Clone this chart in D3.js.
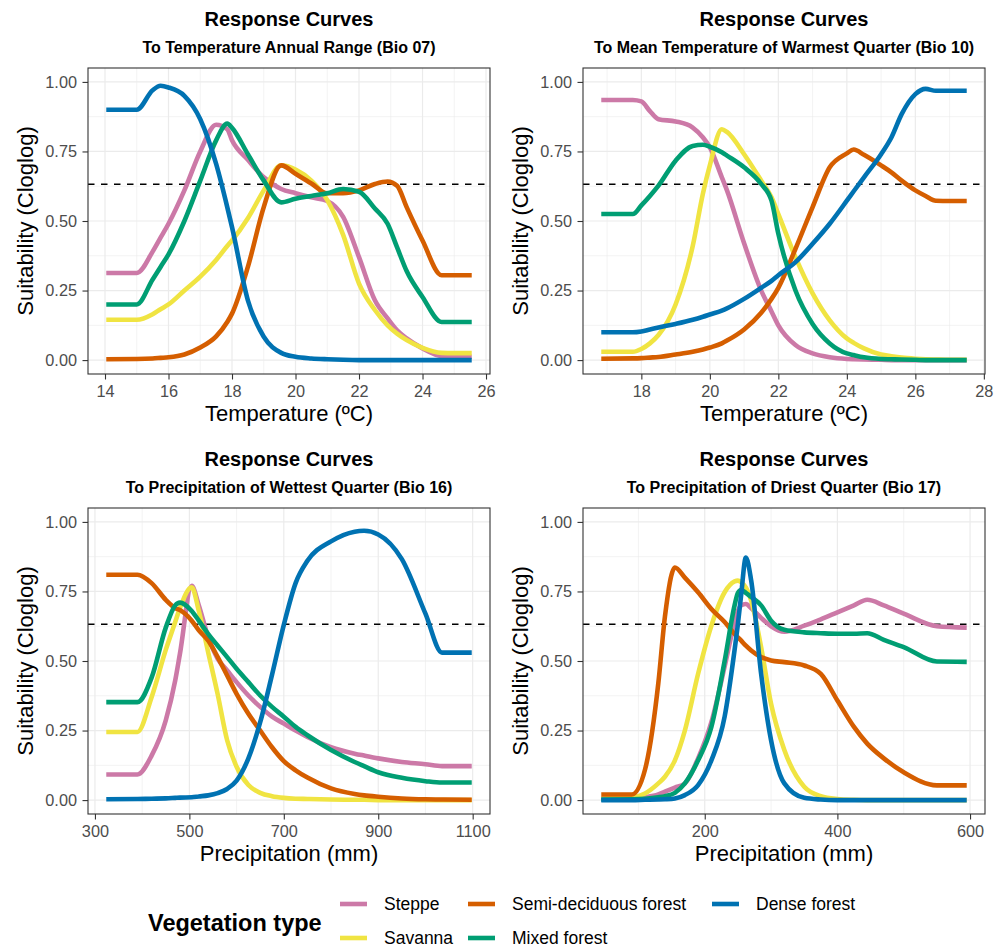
<!DOCTYPE html>
<html lang="en">
<head>
<meta charset="UTF-8">
<title>Response Curves</title>
<script src="https://d3js.org/d3.v7.min.js"></script>
<style>
  body { margin: 0; background: #fff; }
  svg text { font-family: "Liberation Sans", Arial, Helvetica, sans-serif; }
</style>
</head>
<body>
<script>
// vegetation types, legend order (column-major in 2 rows)
const vegTypes = ["Steppe", "Savanna", "Semi-deciduous forest", "Mixed forest", "Dense forest"];
const vegColors = ["#CC79A7", "#F0E442", "#D55E00", "#009E73", "#0072B2"];
const threshold = 0.632;

// Bio 07 - temperature annual range
const bio07X = [14.04, 15.0, 15.5, 15.75, 16, 16.5, 17, 17.5, 17.85, 18, 18.5, 19, 19.55, 20, 20.5, 21, 21.5, 22, 22.5, 22.9, 23.2, 23.5, 24, 24.6, 25, 25.55];
const bio07Steppe = [0.313, 0.313, 0.39, 0.44, 0.49, 0.61, 0.75, 0.846, 0.83, 0.79, 0.72, 0.657, 0.615, 0.60, 0.585, 0.572, 0.515, 0.37, 0.215, 0.15, 0.107, 0.078, 0.042, 0.014, 0.012, 0.012];
const bio07Savanna = [0.145, 0.145, 0.165, 0.183, 0.20, 0.25, 0.30, 0.36, 0.41, 0.43, 0.51, 0.61, 0.70, 0.685, 0.645, 0.575, 0.45, 0.275, 0.18, 0.125, 0.095, 0.072, 0.044, 0.026, 0.025, 0.025];
const bio07Semi = [0.003, 0.004, 0.006, 0.008, 0.01, 0.02, 0.045, 0.085, 0.137, 0.167, 0.335, 0.55, 0.70, 0.67, 0.635, 0.60, 0.60, 0.61, 0.633, 0.642, 0.627, 0.55, 0.43, 0.305, 0.305, 0.305];
const bio07Mixed = [0.20, 0.20, 0.29, 0.335, 0.38, 0.50, 0.645, 0.79, 0.85, 0.835, 0.74, 0.645, 0.567, 0.58, 0.59, 0.60, 0.615, 0.605, 0.545, 0.49, 0.405, 0.32, 0.227, 0.137, 0.137, 0.137];
const bio07Dense = [0.90, 0.90, 0.97, 0.986, 0.98, 0.95, 0.866, 0.705, 0.55, 0.478, 0.215, 0.084, 0.026, 0.012, 0.006, 0.003, 0.001, 0, 0, 0, 0, 0, 0, 0, 0, 0];
const bio07Ticks = [14, 16, 18, 20, 22, 24, 26];

// Bio 10 - mean temperature of warmest quarter
const bio10X = [16.83, 17.75, 18, 18.25, 18.5, 19, 19.5, 19.8, 20, 20.35, 20.5, 21, 21.5, 21.8, 22, 22.5, 23, 23.5, 24, 24.2, 24.5, 25, 25.3, 25.6, 26, 26.3, 26.6, 27, 27.5];
const bio10Steppe = [0.935, 0.935, 0.93, 0.895, 0.866, 0.858, 0.836, 0.80, 0.765, 0.657, 0.61, 0.42, 0.25, 0.175, 0.125, 0.054, 0.024, 0.01, 0.004, 0.003, 0.002, 0.001, 0, 0, 0, 0, 0, 0, 0];
const bio10Savanna = [0.03, 0.03, 0.04, 0.06, 0.09, 0.20, 0.41, 0.60, 0.70, 0.83, 0.82, 0.74, 0.645, 0.585, 0.525, 0.37, 0.24, 0.143, 0.078, 0.062, 0.042, 0.02, 0.014, 0.009, 0.005, 0.003, 0.002, 0.001, 0.001];
const bio10Semi = [0.005, 0.006, 0.007, 0.009, 0.011, 0.02, 0.03, 0.038, 0.045, 0.06, 0.07, 0.11, 0.17, 0.22, 0.26, 0.40, 0.55, 0.693, 0.743, 0.757, 0.738, 0.70, 0.675, 0.645, 0.61, 0.59, 0.573, 0.572, 0.572];
const bio10Mixed = [0.525, 0.525, 0.556, 0.59, 0.627, 0.717, 0.77, 0.774, 0.767, 0.747, 0.735, 0.693, 0.633, 0.573, 0.454, 0.25, 0.13, 0.06, 0.024, 0.018, 0.01, 0.004, 0.003, 0.002, 0.001, 0, 0, 0, 0];
const bio10Dense = [0.10, 0.10, 0.103, 0.11, 0.117, 0.13, 0.145, 0.156, 0.164, 0.178, 0.186, 0.22, 0.26, 0.285, 0.305, 0.352, 0.418, 0.49, 0.573, 0.607, 0.657, 0.74, 0.80, 0.884, 0.956, 0.975, 0.968, 0.968, 0.968];
const bio10Ticks = [18, 20, 22, 24, 26, 28];

// Bio 16 - precipitation of wettest quarter
const bio16X = [324, 390, 420, 450, 470, 480, 505, 520, 540, 560, 580, 600, 625, 650, 675, 700, 725, 750, 800, 850, 870, 900, 950, 1000, 1035, 1098];
const bio16Steppe = [0.092, 0.092, 0.16, 0.287, 0.43, 0.526, 0.77, 0.70, 0.585, 0.508, 0.466, 0.424, 0.376, 0.335, 0.30, 0.275, 0.25, 0.227, 0.19, 0.167, 0.16, 0.15, 0.137, 0.129, 0.122, 0.122];
const bio16Savanna = [0.245, 0.245, 0.37, 0.54, 0.64, 0.69, 0.765, 0.68, 0.53, 0.38, 0.215, 0.12, 0.054, 0.026, 0.014, 0.008, 0.005, 0.004, 0.002, 0.001, 0.001, 0, 0, 0, 0, 0];
const bio16Semi = [0.81, 0.81, 0.78, 0.72, 0.69, 0.683, 0.645, 0.61, 0.573, 0.514, 0.448, 0.382, 0.31, 0.25, 0.19, 0.14, 0.107, 0.081, 0.042, 0.022, 0.017, 0.012, 0.006, 0.003, 0.002, 0.001];
const bio16Mixed = [0.352, 0.352, 0.44, 0.62, 0.70, 0.71, 0.68, 0.645, 0.597, 0.555, 0.514, 0.472, 0.424, 0.376, 0.335, 0.30, 0.263, 0.233, 0.18, 0.137, 0.122, 0.10, 0.08, 0.068, 0.063, 0.063];
const bio16Dense = [0.003, 0.004, 0.005, 0.006, 0.008, 0.009, 0.01, 0.013, 0.017, 0.025, 0.04, 0.07, 0.15, 0.28, 0.45, 0.63, 0.78, 0.86, 0.93, 0.965, 0.968, 0.955, 0.866, 0.67, 0.53, 0.53];
const bio16Ticks = [300, 500, 700, 900, 1100];

// Bio 17 - precipitation of driest quarter
const bio17X = [44, 90, 110, 130, 140, 155, 170, 190, 210, 230, 245, 250, 255, 262, 270, 285, 300, 320, 350, 375, 400, 425, 445, 470, 500, 550, 595];
const bio17Steppe = [0.005, 0.005, 0.01, 0.02, 0.03, 0.045, 0.06, 0.15, 0.28, 0.48, 0.64, 0.68, 0.70, 0.705, 0.69, 0.655, 0.625, 0.605, 0.627, 0.65, 0.675, 0.70, 0.72, 0.70, 0.67, 0.625, 0.62];
const bio17Savanna = [0.005, 0.01, 0.024, 0.06, 0.084, 0.143, 0.25, 0.454, 0.627, 0.747, 0.786, 0.789, 0.783, 0.765, 0.717, 0.55, 0.346, 0.18, 0.048, 0.014, 0.004, 0.001, 0, 0, 0, 0, 0];
const bio17Semi = [0.02, 0.02, 0.11, 0.42, 0.66, 0.836, 0.80, 0.747, 0.687, 0.64, 0.597, 0.585, 0.573, 0.555, 0.538, 0.514, 0.502, 0.496, 0.484, 0.454, 0.358, 0.263, 0.203, 0.15, 0.10, 0.053, 0.053];
const bio17Mixed = [0.002, 0.003, 0.005, 0.01, 0.014, 0.026, 0.06, 0.143, 0.263, 0.50, 0.70, 0.745, 0.755, 0.745, 0.73, 0.70, 0.645, 0.612, 0.603, 0.60, 0.598, 0.598, 0.60, 0.576, 0.55, 0.498, 0.497];
const bio17Dense = [0, 0, 0.001, 0.002, 0.003, 0.006, 0.018, 0.054, 0.143, 0.30, 0.54, 0.633, 0.74, 0.872, 0.79, 0.454, 0.215, 0.06, 0.008, 0.002, 0, 0, 0, 0, 0, 0, 0];
const bio17Ticks = [200, 400, 600];

const yTicks = [0, 0.25, 0.5, 0.75, 1];

const panels = [
  { left: 88, top: 68, x: bio07X, ticks: bio07Ticks,
    series: [bio07Steppe, bio07Savanna, bio07Semi, bio07Mixed, bio07Dense],
    subtitle: "To Temperature Annual Range (Bio 07)", xLabel: "Temperature (ºC)" },
  { left: 583, top: 68, x: bio10X, ticks: bio10Ticks,
    series: [bio10Steppe, bio10Savanna, bio10Semi, bio10Mixed, bio10Dense],
    subtitle: "To Mean Temperature of Warmest Quarter (Bio 10)", xLabel: "Temperature (ºC)" },
  { left: 88, top: 508, x: bio16X, ticks: bio16Ticks,
    series: [bio16Steppe, bio16Savanna, bio16Semi, bio16Mixed, bio16Dense],
    subtitle: "To Precipitation of Wettest Quarter (Bio 16)", xLabel: "Precipitation (mm)" },
  { left: 583, top: 508, x: bio17X, ticks: bio17Ticks,
    series: [bio17Steppe, bio17Savanna, bio17Semi, bio17Mixed, bio17Dense],
    subtitle: "To Precipitation of Driest Quarter (Bio 17)", xLabel: "Precipitation (mm)" }
];

const W = 1006, H = 948;
const pw = 402, ph = 306;

const svg = d3.select("body").append("svg")
  .attr("width", W)
  .attr("height", H);

// ggplot style 5% expansion
function expand(ext) {
  const pad = (ext[1] - ext[0]) * 0.05;
  return [ext[0] - pad, ext[1] + pad];
}

panels.forEach(p => {
  const g = svg.append("g").attr("transform", `translate(${p.left},${p.top})`);

  const x = d3.scaleLinear().domain(expand(d3.extent(p.x))).range([0, pw]);
  const y = d3.scaleLinear().domain(expand([0, 1])).range([ph, 0]);

  // minor grid sits halfway between major ticks
  const step = p.ticks[1] - p.ticks[0];
  const xMinor = d3.range(p.ticks[0] - step / 2, p.ticks[p.ticks.length - 1] + step, step)
    .filter(v => x(v) > 0 && x(v) < pw);
  const yMinor = yTicks.slice(1).map(v => v - 0.125);

  const grid = g.append("g");
  grid.selectAll(".xminor").data(xMinor).join("line")
    .attr("x1", d => x(d)).attr("x2", d => x(d)).attr("y1", 0).attr("y2", ph)
    .attr("stroke", "#EBEBEB").attr("stroke-width", 0.6);
  grid.selectAll(".yminor").data(yMinor).join("line")
    .attr("x1", 0).attr("x2", pw).attr("y1", d => y(d)).attr("y2", d => y(d))
    .attr("stroke", "#EBEBEB").attr("stroke-width", 0.6);
  grid.selectAll(".xmajor").data(p.ticks.filter(v => x(v) >= 0 && x(v) <= pw)).join("line")
    .attr("x1", d => x(d)).attr("x2", d => x(d)).attr("y1", 0).attr("y2", ph)
    .attr("stroke", "#EBEBEB").attr("stroke-width", 1.2);
  grid.selectAll(".ymajor").data(yTicks).join("line")
    .attr("x1", 0).attr("x2", pw).attr("y1", d => y(d)).attr("y2", d => y(d))
    .attr("stroke", "#EBEBEB").attr("stroke-width", 1.2);

  // threshold line
  g.append("line")
    .attr("x1", 0).attr("x2", pw)
    .attr("y1", y(threshold)).attr("y2", y(threshold))
    .attr("stroke", "#000").attr("stroke-width", 1.4)
    .attr("stroke-dasharray", "6.5,6.5");

  const line = d3.line()
    .x(d => x(d[0]))
    .y(d => y(d[1]))
    .curve(d3.curveMonotoneX);

  p.series.forEach((vals, i) => {
    g.append("path")
      .datum(p.x.map((xv, j) => [xv, vals[j]]))
      .attr("d", line)
      .attr("fill", "none")
      .attr("stroke", vegColors[i])
      .attr("stroke-width", 4.6)
      .attr("stroke-linejoin", "round");
  });

  // axes
  const xAxis = g.append("g").attr("transform", `translate(0,${ph})`)
    .call(d3.axisBottom(x).tickValues(p.ticks).tickFormat(d3.format("d")).tickSize(5.5).tickPadding(6));
  const yAxis = g.append("g")
    .call(d3.axisLeft(y).tickValues(yTicks).tickFormat(d3.format(".2f")).tickSize(5.5).tickPadding(5.5));
  [xAxis, yAxis].forEach(a => {
    a.select(".domain").remove();
    a.selectAll(".tick line").attr("stroke", "#333333").attr("stroke-width", 1.1);
    a.selectAll(".tick text")
      .attr("fill", "#4D4D4D")
      .style("font-size", "16.3px")
      .style("font-family", "'Liberation Sans', Arial, sans-serif");
  });

  // border
  g.append("rect")
    .attr("width", pw).attr("height", ph)
    .attr("fill", "none").attr("stroke", "#333333").attr("stroke-width", 1.1);

  // titles
  g.append("text")
    .attr("x", pw / 2).attr("y", -42)
    .attr("text-anchor", "middle")
    .style("font-size", "20px").style("font-weight", "bold")
    .text("Response Curves");
  g.append("text")
    .attr("x", pw / 2).attr("y", -15)
    .attr("text-anchor", "middle")
    .style("font-size", "16px").style("font-weight", "bold")
    .text(p.subtitle);

  g.append("text")
    .attr("x", pw / 2).attr("y", ph + 47)
    .attr("text-anchor", "middle")
    .style("font-size", "22px")
    .text(p.xLabel);
  g.append("text")
    .attr("transform", `translate(-55,${ph / 2}) rotate(-90)`)
    .attr("text-anchor", "middle")
    .style("font-size", "22px")
    .text("Suitability (Cloglog)");
});

// legend
const legend = svg.append("g");
legend.append("text")
  .attr("x", 148).attr("y", 931)
  .style("font-size", "23.5px").style("font-weight", "bold")
  .text("Vegetation type");

const colX = [340, 468, 712];
const rowY = [904, 938];
vegTypes.forEach((name, i) => {
  const cx = colX[Math.floor(i / 2)], cy = rowY[i % 2];
  legend.append("line")
    .attr("x1", cx).attr("x2", cx + 27)
    .attr("y1", cy).attr("y2", cy)
    .attr("stroke", vegColors[i]).attr("stroke-width", 4.6);
  legend.append("text")
    .attr("x", cx + 44).attr("y", cy + 6)
    .style("font-size", "17.5px")
    .text(name);
});
</script>
</body>
</html>
